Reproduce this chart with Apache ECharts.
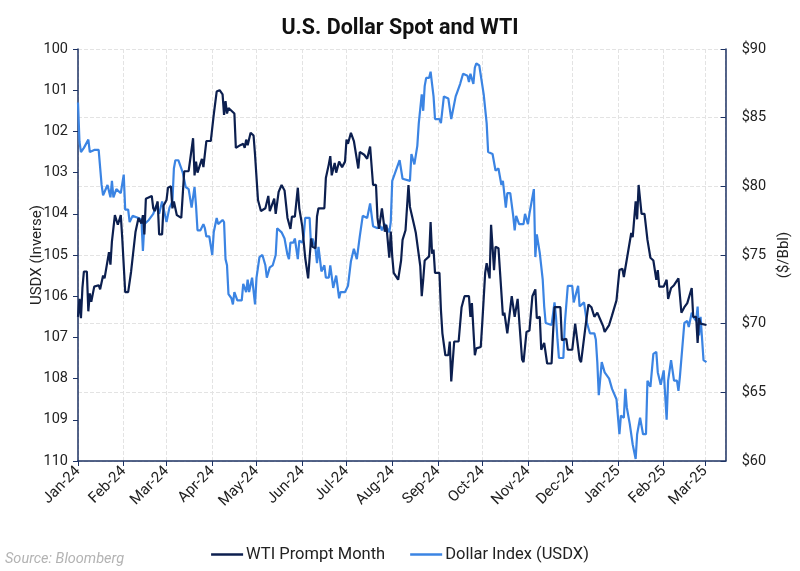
<!DOCTYPE html>
<html lang="en">
<head>
    <meta charset="UTF-8">
    <title>U.S. Dollar Spot and WTI</title>
    <script src="https://cdn.jsdelivr.net/npm/echarts@6/dist/echarts.min.js"></script>
    <style>
        html, body { margin: 0; padding: 0; background: #fff; }
        #chart { width: 800px; height: 571px; }
    </style>
</head>
<body>
    <div id="chart"></div>
    <script>
        // WTI prompt month, $/bbl (right axis)
        var wtiDates = [
            '2024-01-01', '2024-01-02', '2024-01-03', '2024-01-04', '2024-01-05', '2024-01-07', '2024-01-08', '2024-01-09', '2024-01-10', '2024-01-12',
            '2024-01-15', '2024-01-16', '2024-01-18', '2024-01-19', '2024-01-22', '2024-01-23', '2024-01-24', '2024-01-26', '2024-01-27', '2024-01-28',
            '2024-01-30', '2024-01-31', '2024-02-02', '2024-02-04', '2024-02-06', '2024-02-09', '2024-02-11', '2024-02-13', '2024-02-14', '2024-02-15',
            '2024-02-16', '2024-02-20', '2024-02-21', '2024-02-22', '2024-02-24', '2024-02-25', '2024-02-27', '2024-02-28', '2024-03-01', '2024-03-02',
            '2024-03-04', '2024-03-05', '2024-03-06', '2024-03-08', '2024-03-11', '2024-03-13', '2024-03-16', '2024-03-19', '2024-03-20', '2024-03-21',
            '2024-03-22', '2024-03-25', '2024-03-26', '2024-03-28', '2024-03-31', '2024-04-02', '2024-04-04', '2024-04-06', '2024-04-08', '2024-04-09',
            '2024-04-10', '2024-04-11', '2024-04-12', '2024-04-16', '2024-04-17', '2024-04-20', '2024-04-22', '2024-04-23', '2024-04-24', '2024-04-25',
            '2024-04-27', '2024-04-29', '2024-04-30', '2024-05-02', '2024-05-04', '2024-05-07', '2024-05-08', '2024-05-09', '2024-05-10', '2024-05-13',
            '2024-05-14', '2024-05-16', '2024-05-18', '2024-05-20', '2024-05-22', '2024-05-24', '2024-05-25', '2024-05-27', '2024-05-29', '2024-05-30',
            '2024-06-01', '2024-06-02', '2024-06-03', '2024-06-05', '2024-06-06', '2024-06-07', '2024-06-08', '2024-06-10', '2024-06-11', '2024-06-12',
            '2024-06-16', '2024-06-17', '2024-06-19', '2024-06-20', '2024-06-21', '2024-06-23', '2024-06-24', '2024-06-26', '2024-06-28', '2024-06-30',
            '2024-07-01', '2024-07-02', '2024-07-04', '2024-07-06', '2024-07-09', '2024-07-10', '2024-07-13', '2024-07-15', '2024-07-17', '2024-07-19',
            '2024-07-21', '2024-07-22', '2024-07-23', '2024-07-25', '2024-07-27', '2024-07-28', '2024-07-30', '2024-07-31', '2024-08-01', '2024-08-02',
            '2024-08-05', '2024-08-07', '2024-08-08', '2024-08-10', '2024-08-12', '2024-08-13', '2024-08-16', '2024-08-17', '2024-08-20', '2024-08-21',
            '2024-08-22', '2024-08-23', '2024-08-26', '2024-08-27', '2024-08-28', '2024-08-29', '2024-08-30', '2024-09-02', '2024-09-03', '2024-09-04',
            '2024-09-06', '2024-09-08', '2024-09-09', '2024-09-10', '2024-09-12', '2024-09-15', '2024-09-17', '2024-09-19', '2024-09-22', '2024-09-23',
            '2024-09-24', '2024-09-26', '2024-09-27', '2024-09-30', '2024-10-01', '2024-10-03', '2024-10-04', '2024-10-06', '2024-10-07', '2024-10-09',
            '2024-10-10', '2024-10-12', '2024-10-15', '2024-10-16', '2024-10-18', '2024-10-19', '2024-10-21', '2024-10-23', '2024-10-25', '2024-10-26',
            '2024-10-28', '2024-10-29', '2024-10-31', '2024-11-02', '2024-11-04', '2024-11-06', '2024-11-07', '2024-11-09', '2024-11-10', '2024-11-12',
            '2024-11-14', '2024-11-17', '2024-11-18', '2024-11-19', '2024-11-23', '2024-11-24', '2024-11-27', '2024-11-28', '2024-12-01', '2024-12-03',
            '2024-12-06', '2024-12-07', '2024-12-10', '2024-12-12', '2024-12-14', '2024-12-16', '2024-12-18', '2024-12-20', '2024-12-22', '2024-12-23',
            '2024-12-26', '2024-12-28', '2024-12-31', '2025-01-02', '2025-01-04', '2025-01-05', '2025-01-10', '2025-01-11', '2025-01-13', '2025-01-14',
            '2025-01-15', '2025-01-17', '2025-01-19', '2025-01-21', '2025-01-23', '2025-01-25', '2025-01-27', '2025-01-28', '2025-01-29', '2025-02-01',
            '2025-02-03', '2025-02-04', '2025-02-06', '2025-02-08', '2025-02-11', '2025-02-13', '2025-02-15', '2025-02-17', '2025-02-20', '2025-02-21',
            '2025-02-23', '2025-02-24', '2025-02-25', '2025-02-26', '2025-02-27', '2025-03-02'
        ];
        var wtiValues = [
            70.5, 71.8, 70.4, 72.6, 73.8, 73.8, 70.9, 72.2, 71.6, 72.7,
            72.8, 72.5, 73.5, 73.3, 75.2, 74.3, 76.0, 77.9, 78.0, 77.2,
            77.9, 76.2, 72.3, 72.3, 73.8, 76.7, 77.7, 77.3, 77.9, 76.5,
            79.1, 79.3, 78.4, 78.2, 78.9, 76.5, 76.5, 78.6, 79.0, 79.9,
            80.0, 78.4, 78.9, 77.9, 77.7, 81.1, 81.1, 83.5, 80.8, 81.8,
            81.0, 82.0, 81.4, 83.3, 83.3, 85.2, 86.9, 87.0, 86.7, 85.2,
            86.2, 85.3, 85.7, 85.3, 82.8, 83.0, 83.1, 82.8, 83.4, 83.0,
            83.9, 83.7, 82.3, 79.0, 78.2, 78.4, 78.3, 79.3, 78.2, 79.1,
            78.0, 79.6, 80.1, 79.7, 77.7, 76.9, 77.8, 77.8, 79.9, 78.4,
            77.1, 77.2, 74.8, 73.3, 74.8, 76.2, 75.6, 75.5, 77.8, 78.4,
            78.4, 80.6, 81.6, 82.2, 80.8, 81.7, 81.0, 81.8, 81.4, 81.8,
            83.4, 83.1, 83.9, 83.3, 81.3, 82.5, 82.3, 82.0, 82.9, 80.1,
            80.1, 77.7, 76.9, 78.4, 76.7, 77.2, 74.8, 76.7, 74.9, 73.7,
            73.2, 74.6, 76.1, 76.8, 80.1, 78.5, 77.1, 76.6, 74.2, 72.0,
            73.2, 74.6, 74.9, 77.4, 75.1, 75.4, 73.7, 73.7, 71.0, 69.3,
            67.7, 67.7, 68.7, 65.8, 68.7, 68.7, 71.2, 72.0, 72.0, 70.5,
            71.5, 67.7, 68.2, 68.3, 70.0, 73.7, 74.4, 73.3, 77.2, 73.9,
            75.6, 75.5, 70.6, 70.8, 69.3, 69.3, 72.0, 70.5, 71.8, 71.8,
            67.4, 67.2, 69.4, 69.5, 72.0, 72.5, 70.4, 70.5, 68.1, 68.6,
            67.1, 67.1, 69.3, 71.2, 71.2, 68.8, 68.9, 68.1, 68.1, 70.0,
            67.4, 67.2, 69.8, 71.4, 71.2, 70.5, 70.8, 70.3, 69.8, 69.4,
            69.9, 70.6, 71.7, 73.9, 74.0, 73.4, 76.6, 76.3, 78.9, 77.6,
            80.1, 78.0, 78.0, 76.1, 74.8, 74.6, 73.2, 73.9, 72.7, 72.7,
            73.2, 71.8, 72.6, 72.8, 73.3, 70.8, 71.2, 71.5, 72.6, 70.5,
            70.5, 68.6, 70.4, 70.0, 70.0, 69.9
        ];

        // Dollar index (left axis, inverted)
        var usdxDates = [
            '2024-01-01', '2024-01-02', '2024-01-03', '2024-01-05', '2024-01-08', '2024-01-09', '2024-01-12', '2024-01-15', '2024-01-17', '2024-01-18',
            '2024-01-21', '2024-01-23', '2024-01-24', '2024-01-25', '2024-01-27', '2024-01-30', '2024-02-01', '2024-02-02', '2024-02-04', '2024-02-05',
            '2024-02-07', '2024-02-11', '2024-02-13', '2024-02-14', '2024-02-15', '2024-02-18', '2024-02-21', '2024-02-23', '2024-02-25', '2024-02-27',
            '2024-03-01', '2024-03-03', '2024-03-05', '2024-03-06', '2024-03-07', '2024-03-09', '2024-03-11', '2024-03-12', '2024-03-14', '2024-03-16',
            '2024-03-18', '2024-03-20', '2024-03-21', '2024-03-22', '2024-03-24', '2024-03-26', '2024-03-27', '2024-03-28', '2024-03-30', '2024-04-01',
            '2024-04-02', '2024-04-04', '2024-04-05', '2024-04-08', '2024-04-09', '2024-04-10', '2024-04-11', '2024-04-12', '2024-04-14', '2024-04-15',
            '2024-04-16', '2024-04-18', '2024-04-21', '2024-04-22', '2024-04-24', '2024-04-25', '2024-04-26', '2024-04-28', '2024-04-30', '2024-05-01',
            '2024-05-03', '2024-05-05', '2024-05-07', '2024-05-08', '2024-05-10', '2024-05-12', '2024-05-14', '2024-05-15', '2024-05-18', '2024-05-20',
            '2024-05-22', '2024-05-23', '2024-05-24', '2024-05-26', '2024-05-27', '2024-05-29', '2024-05-30', '2024-06-01', '2024-06-02', '2024-06-03',
            '2024-06-06', '2024-06-07', '2024-06-08', '2024-06-10', '2024-06-11', '2024-06-12', '2024-06-14', '2024-06-16', '2024-06-17', '2024-06-19',
            '2024-06-20', '2024-06-22', '2024-06-24', '2024-06-26', '2024-06-27', '2024-06-30', '2024-07-02', '2024-07-04', '2024-07-06', '2024-07-08',
            '2024-07-10', '2024-07-12', '2024-07-15', '2024-07-17', '2024-07-19', '2024-07-22', '2024-07-24', '2024-07-25', '2024-07-27', '2024-07-30',
            '2024-07-31', '2024-08-01', '2024-08-06', '2024-08-08', '2024-08-13', '2024-08-14', '2024-08-16', '2024-08-18', '2024-08-19', '2024-08-21',
            '2024-08-22', '2024-08-23', '2024-08-24', '2024-08-26', '2024-08-27', '2024-08-28', '2024-08-29', '2024-08-30', '2024-09-02', '2024-09-03',
            '2024-09-05', '2024-09-08', '2024-09-10', '2024-09-13', '2024-09-14', '2024-09-16', '2024-09-18', '2024-09-21', '2024-09-22', '2024-09-23',
            '2024-09-25', '2024-09-26', '2024-09-27', '2024-09-29', '2024-10-02', '2024-10-04', '2024-10-05', '2024-10-08', '2024-10-10', '2024-10-12',
            '2024-10-14', '2024-10-15', '2024-10-17', '2024-10-18', '2024-10-20', '2024-10-22', '2024-10-23', '2024-10-24', '2024-10-26', '2024-10-29',
            '2024-10-30', '2024-11-01', '2024-11-02', '2024-11-05', '2024-11-06', '2024-11-07', '2024-11-09', '2024-11-11', '2024-11-12', '2024-11-13',
            '2024-11-17', '2024-11-19', '2024-11-20', '2024-11-21', '2024-11-22', '2024-11-25', '2024-11-26', '2024-11-28', '2024-12-01', '2024-12-02',
            '2024-12-05', '2024-12-06', '2024-12-09', '2024-12-11', '2024-12-13', '2024-12-16', '2024-12-17', '2024-12-18', '2024-12-19', '2024-12-21',
            '2024-12-23', '2024-12-26', '2024-12-28', '2024-12-29', '2024-12-31', '2025-01-02', '2025-01-03', '2025-01-05', '2025-01-06', '2025-01-07',
            '2025-01-09', '2025-01-11', '2025-01-13', '2025-01-14', '2025-01-16', '2025-01-18', '2025-01-20', '2025-01-21', '2025-01-23', '2025-01-25',
            '2025-01-27', '2025-01-28', '2025-01-30', '2025-02-01', '2025-02-03', '2025-02-04', '2025-02-06', '2025-02-08', '2025-02-10', '2025-02-11',
            '2025-02-12', '2025-02-15', '2025-02-17', '2025-02-18', '2025-02-20', '2025-02-21', '2025-02-23', '2025-02-24', '2025-02-25', '2025-02-26',
            '2025-02-28', '2025-03-02'
        ];
        var usdxValues = [
            101.3, 102.25, 102.5, 102.4, 102.2, 102.5, 102.45, 102.45, 103.3, 103.55,
            103.3, 103.6, 103.2, 103.6, 103.4, 103.5, 103.05, 103.9, 103.9, 104.2,
            104.05, 104.1, 104.15, 104.9, 104.25, 104.15, 104.0, 103.8, 104.0, 103.7,
            104.2, 103.85, 103.7, 102.9, 102.7, 102.7, 102.9, 103.0, 103.35, 103.4,
            103.85, 103.35, 103.8, 104.4, 104.4, 104.25, 104.35, 104.55, 104.55, 105.0,
            104.45, 104.1, 104.25, 104.15, 104.2, 105.1, 105.25, 105.95, 106.05, 106.2,
            105.9, 106.1, 106.1, 105.7, 105.9, 105.6, 105.9, 105.55, 106.2, 105.55,
            105.05, 105.0, 105.25, 105.55, 105.3, 105.25, 105.0, 104.35, 104.45, 104.6,
            105.0, 105.1, 104.7, 104.7, 104.6, 105.1, 104.65, 104.7, 104.55, 104.1,
            104.1, 104.8, 104.6, 104.85, 105.2, 104.8, 105.4, 105.25, 105.55, 105.55,
            105.25, 105.8, 105.5, 106.05, 105.9, 105.9, 105.75, 105.15, 104.85, 105.1,
            104.55, 104.05, 104.1, 103.75, 104.3, 104.35, 104.3, 104.4, 104.25, 104.45,
            104.2, 103.2, 102.7, 103.15, 103.2, 102.55, 102.8, 102.35, 101.8, 101.1,
            101.5, 100.9, 100.7, 100.7, 100.55, 100.85, 101.15, 101.7, 101.7, 101.8,
            101.15, 101.2, 101.7, 101.15, 101.05, 100.85, 100.6, 100.65, 100.8, 100.6,
            100.85, 100.45, 100.35, 100.4, 101.1, 101.8, 102.5, 102.55, 102.95, 102.9,
            103.3, 103.2, 103.85, 103.5, 103.5, 104.05, 104.4, 104.05, 104.25, 104.25,
            104.0, 104.25, 104.0, 103.4, 105.05, 104.5, 104.95, 105.6, 106.25, 106.65,
            106.7, 106.15, 106.5, 107.05, 107.5, 107.5, 106.65, 105.75, 105.75, 106.15,
            105.75, 106.25, 106.15, 106.65, 106.9, 106.9, 107.05, 107.6, 108.4, 107.6,
            107.85, 108.0, 108.25, 108.25, 108.5, 109.35, 108.9, 108.95, 108.25, 108.7,
            109.1, 109.6, 109.95, 109.35, 108.95, 109.35, 109.35, 108.05, 108.2, 107.4,
            107.35, 107.85, 108.15, 107.8, 109.0, 108.05, 107.55, 108.05, 108.05, 108.3,
            107.95, 106.65, 106.6, 106.75, 106.4, 106.5, 106.6, 106.25, 106.95, 106.5,
            107.55, 107.6
        ];

        var monthNames = ['Jan', 'Feb', 'Mar', 'Apr', 'May', 'Jun', 'Jul', 'Aug', 'Sep', 'Oct', 'Nov', 'Dec'];
        var navy = '#0c1f4f';
        var blue = '#3b84e3';
        var axisColor = '#1d3263';
        var font = 'Roboto';

        function pairs(dates, values) {
            return dates.map(function (d, i) { return [d, values[i]]; });
        }

        var myChart = echarts.init(document.getElementById('chart'));
        myChart.setOption({
            backgroundColor: '#fff',
            textStyle: { fontFamily: font },
            title: {
                text: 'U.S. Dollar Spot and WTI',
                left: 'center',
                top: 13,
                textStyle: { fontSize: 21.5, fontWeight: 'bold', color: '#111', fontFamily: font }
            },
            legend: {
                data: ['WTI Prompt Month', 'Dollar Index (USDX)'],
                top: 541,
                left: 'center',
                icon: 'rect',
                itemWidth: 32,
                itemHeight: 2.5,
                itemGap: 25,
                textStyle: { fontSize: 16.5, color: '#222', fontFamily: font, padding: [0, 0, 0, -2] }
            },
            graphic: [{
                type: 'text',
                left: 5,
                top: 552,
                style: {
                    text: 'Source: Bloomberg',
                    fontSize: 14.5,
                    fontStyle: 'italic',
                    fontFamily: font,
                    fill: '#b3b3b3'
                }
            }],
            grid: { left: 78, right: 69, top: 49, bottom: 110 },
            xAxis: {
                type: 'time',
                min: '2024-01-01',
                max: '2025-03-15',
                splitNumber: 15,
                minInterval: 28 * 86400000,
                maxInterval: 31 * 86400000,
                axisLine: { lineStyle: { color: axisColor, width: 1.5 } },
                axisTick: { show: true, length: 5, lineStyle: { color: axisColor } },
                axisLabel: {
                    rotate: 45,
                    fontSize: 15,
                    color: '#222',
                    margin: 8,
                    showMaxLabel: false,
                    formatter: function (val) {
                        var d = new Date(val);
                        return monthNames[d.getMonth()] + '-' + String(d.getFullYear()).slice(2);
                    }
                },
                splitLine: { show: true, lineStyle: { color: '#e3e3e3', type: 'dashed' } }
            },
            yAxis: [
                {
                    type: 'value',
                    inverse: true,
                    min: 100,
                    max: 110,
                    interval: 1,
                    name: 'USDX (Inverse)',
                    nameLocation: 'middle',
                    nameGap: 33,
                    nameMoveOverlap: false,
                    nameTextStyle: { fontSize: 15, color: '#222' },
                    axisLine: { show: true, lineStyle: { color: axisColor, width: 1.5 } },
                    axisTick: { show: true, length: 5, lineStyle: { color: axisColor } },
                    axisLabel: { fontSize: 14.5, color: '#222', margin: 10 },
                    splitLine: { show: false }
                },
                {
                    type: 'value',
                    position: 'right',
                    min: 60,
                    max: 90,
                    interval: 5,
                    name: '($/Bbl)',
                    nameLocation: 'middle',
                    nameGap: 48,
                    nameTextStyle: { fontSize: 15, color: '#222' },
                    axisLine: { show: true, lineStyle: { color: axisColor, width: 1.5 } },
                    axisTick: { show: true, inside: true, length: 5, lineStyle: { color: axisColor } },
                    axisLabel: { fontSize: 14.5, color: '#222', margin: 16, formatter: '${value}' },
                    splitLine: { show: true, lineStyle: { color: '#e3e3e3', type: 'dashed' } }
                }
            ],
            series: [
                {
                    name: 'Dollar Index (USDX)',
                    type: 'line',
                    yAxisIndex: 0,
                    symbol: 'none',
                    lineStyle: { color: blue, width: 2.2 },
                    itemStyle: { color: blue },
                    data: pairs(usdxDates, usdxValues)
                },
                {
                    name: 'WTI Prompt Month',
                    type: 'line',
                    yAxisIndex: 1,
                    symbol: 'none',
                    lineStyle: { color: navy, width: 2.2 },
                    itemStyle: { color: navy },
                    data: pairs(wtiDates, wtiValues)
                }
            ]
        });
    </script>
</body>
</html>
